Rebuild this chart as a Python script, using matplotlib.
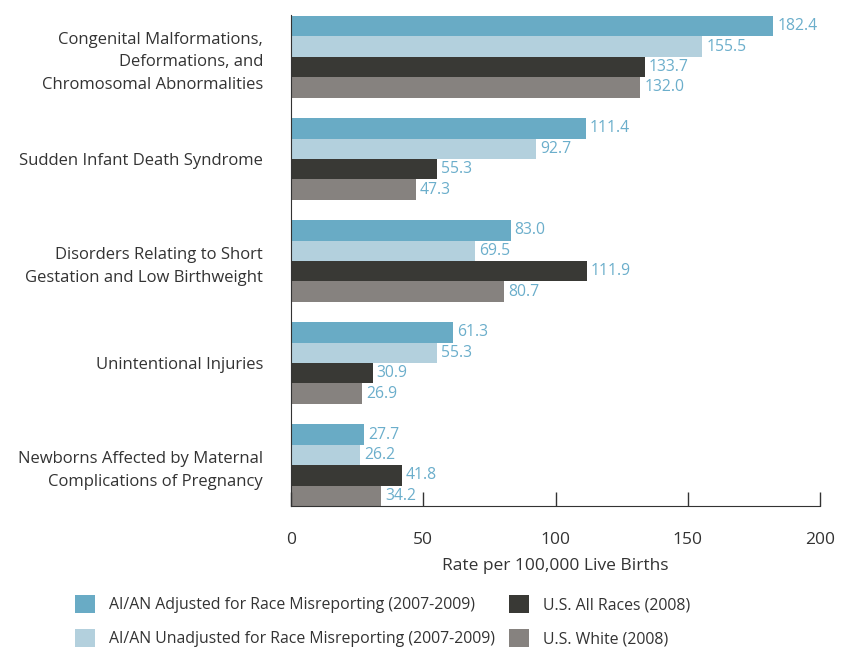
import numpy as np
import matplotlib
matplotlib.use("Agg")
import matplotlib.pyplot as plt
from matplotlib.patches import Patch

# Data
categories = [
    "Congenital Malformations,\nDeformations, and\nChromosomal Abnormalities",
    "Sudden Infant Death Syndrome",
    "Disorders Relating to Short\nGestation and Low Birthweight",
    "Unintentional Injuries",
    "Newborns Affected by Maternal\nComplications of Pregnancy",
]
aian_adjusted = [182.4, 111.4, 83.0, 61.3, 27.7]
aian_unadjusted = [155.5, 92.7, 69.5, 55.3, 26.2]
us_all_races = [133.7, 55.3, 111.9, 30.9, 41.8]
us_white = [132.0, 47.3, 80.7, 26.9, 34.2]

series_names = [
    "AI/AN Adjusted for Race Misreporting (2007-2009)",
    "AI/AN Unadjusted for Race Misreporting (2007-2009)",
    "U.S. All Races (2008)",
    "U.S. White (2008)",
]
colors = ["#69abc5", "#b3d0dd", "#393935", "#86827f"]
label_color = "#6baecb"
text_color = "#333333"

plt.rcParams["font.family"] = ["Open Sans", "DejaVu Sans"]

fig = plt.figure(figsize=(8.44, 6.52), dpi=100)
ax = fig.add_axes([0.3448, 0.224, 0.6268, 0.753])

y = np.arange(len(categories))
bar_h = 0.2
offsets = [-0.3, -0.1, 0.1, 0.3]
all_series = [aian_adjusted, aian_unadjusted, us_all_races, us_white]

for vals, off, col in zip(all_series, offsets, colors):
    ax.barh(y + off, vals, height=bar_h, color=col, edgecolor="none")
    for yi, v in zip(y, vals):
        ax.text(v + 1.5, yi + off, f"{v:.1f}", va="center", ha="left",
                fontsize=11.3, color=label_color)

ax.set_xlim(0, 200)
ax.set_ylim(4.40, -0.41)
ax.set_xticks([0, 50, 100, 150, 200])
ax.tick_params(axis="x", direction="in", length=10, width=1, color=text_color,
               labelsize=12.5, labelcolor=text_color, pad=19)
ax.set_yticks(y)
ax.set_yticklabels(categories, fontsize=12, color=text_color,
                   linespacing=1.55)
ax.tick_params(axis="y", length=0, pad=20)
ax.set_xlabel("Rate per 100,000 Live Births", fontsize=12.5,
              color=text_color, labelpad=7)

for s in ["top", "right"]:
    ax.spines[s].set_visible(False)
ax.spines["left"].set_color(text_color)
ax.spines["bottom"].set_color(text_color)

handles = [Patch(facecolor=c, edgecolor="none") for c in colors]
fig.legend(handles, series_names, ncol=2, loc="upper left",
           bbox_to_anchor=(0.089, 0.088), frameon=False, fontsize=11.4,
           labelcolor=text_color, handlelength=1.25, handleheight=1.4,
           handletextpad=0.9, columnspacing=0.9, labelspacing=1.0,
           borderaxespad=0, borderpad=0)

fig.savefig("out.png", dpi=100)
